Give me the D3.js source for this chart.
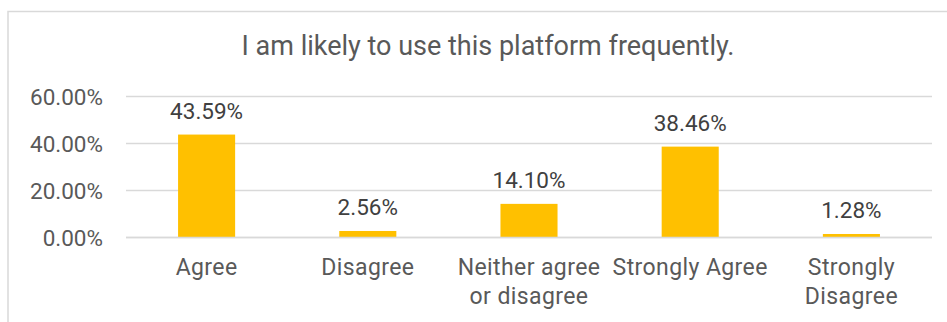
<!DOCTYPE html>
<html>
<head>
<meta charset="utf-8">
<script src="https://cdn.jsdelivr.net/npm/d3@7"></script>
<style>
  html, body { margin: 0; padding: 0; background: #ffffff; }
  svg { display: block; font-family: Roboto, "Noto Sans", Arial, sans-serif; }
</style>
</head>
<body>
<svg id="chart" width="947" height="322"></svg>
<script>
// Survey responses: "I am likely to use this platform frequently."
const chartTitle = "I am likely to use this platform frequently.";
const categories = ["Agree", "Disagree", "Neither agree or disagree", "Strongly Agree", "Strongly Disagree"];
const shares = [0.4359, 0.0256, 0.1410, 0.3846, 0.0128];
const yTicks = [0, 0.2, 0.4, 0.6];

const W = 947, H = 322;
const plot = { left: 126, right: 932, top: 96, bottom: 237 };

const svg = d3.select("#chart");

// Chart frame
svg.append("rect")
  .attr("x", 8).attr("y", 11.5)
  .attr("width", 1000).attr("height", 400)
  .attr("fill", "none")
  .attr("stroke", "#d9d9d9")
  .attr("stroke-width", 1.5);

// Title
svg.append("text")
  .attr("x", 488).attr("y", 55)
  .attr("text-anchor", "middle")
  .attr("fill", "#595959")
  .style("font-size", "27px")
  .text(chartTitle);

const x = d3.scaleBand()
  .domain(categories)
  .range([plot.left, plot.right])
  .paddingInner(0.646)
  .paddingOuter(0.323);

const y = d3.scaleLinear()
  .domain([0, 0.6])
  .range([plot.bottom, plot.top]);

// Horizontal gridlines
svg.append("g")
  .selectAll("line")
  .data(yTicks)
  .join("line")
  .attr("x1", plot.left).attr("x2", plot.right)
  .attr("y1", d => Math.round(y(d)) + 0.5)
  .attr("y2", d => Math.round(y(d)) + 0.5)
  .attr("stroke", "#d9d9d9")
  .attr("stroke-width", 1.5);

// Y axis labels
const yAxis = d3.axisLeft(y)
  .tickValues(yTicks)
  .tickFormat(d3.format(".2%"))
  .tickSize(0)
  .tickPadding(0);

const yG = svg.append("g")
  .attr("transform", `translate(103,0)`)
  .call(yAxis);
yG.select(".domain").remove();
yG.selectAll("text")
  .attr("fill", "#595959")
  .attr("dy", "0.36em")
  .style("font-size", "22.5px")
  .style("font-family", "Roboto, 'Noto Sans', Arial, sans-serif");

// Bars
svg.append("g")
  .selectAll("rect")
  .data(categories)
  .join("rect")
  .attr("x", d => x(d))
  .attr("width", x.bandwidth())
  .attr("y", (d, i) => y(shares[i]))
  .attr("height", (d, i) => y(0) - y(shares[i]))
  .attr("fill", "#ffc000");

// Data labels
svg.append("g")
  .selectAll("text")
  .data(categories)
  .join("text")
  .attr("x", d => x(d) + x.bandwidth() / 2)
  .attr("y", (d, i) => y(shares[i]) - 16)
  .attr("text-anchor", "middle")
  .attr("fill", "#404040")
  .style("font-size", "22.5px")
  .text((d, i) => d3.format(".2%")(shares[i]));

// Category axis labels, wrapped to the band step
const xAxis = d3.axisBottom(x).tickSize(0).tickPadding(0);
const xG = svg.append("g")
  .attr("transform", `translate(0,275)`)
  .call(xAxis);
xG.select(".domain").remove();
xG.selectAll("text")
  .attr("fill", "#595959")
  .attr("y", 0)
  .attr("dy", 0)
  .style("font-size", "23px")
  .style("letter-spacing", "0.4px")
  .style("font-family", "Roboto, 'Noto Sans', Arial, sans-serif")
  .each(function () {
    const t = d3.select(this);
    const words = t.text().split(/\s+/);
    const maxW = x.step() + 4;
    t.text(null);
    let line = [];
    let lineNo = 0;
    let tspan = t.append("tspan").attr("x", 0).attr("y", 0);
    for (const w of words) {
      line.push(w);
      tspan.text(line.join(" "));
      if (tspan.node().getComputedTextLength() > maxW && line.length > 1) {
        line.pop();
        tspan.text(line.join(" "));
        line = [w];
        lineNo += 1;
        tspan = t.append("tspan").attr("x", 0).attr("y", lineNo * 28.5).text(w);
      }
    }
  });

// Category baseline
svg.append("line")
  .attr("x1", plot.left).attr("x2", plot.right)
  .attr("y1", Math.round(y(0)) + 0.5).attr("y2", Math.round(y(0)) + 0.5)
  .attr("stroke", "#d9d9d9")
  .attr("stroke-width", 1.5);
</script>
</body>
</html>
